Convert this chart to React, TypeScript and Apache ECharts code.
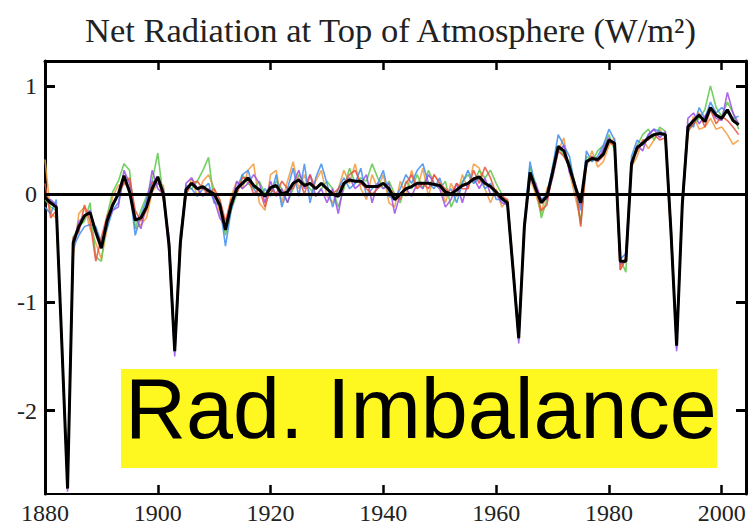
import React, { useEffect, useRef } from "react";
import * as echarts from "echarts";

const titleText = "Net Radiation at Top of Atmosphere (W/m²)";
const boxText = "Rad. Imbalance";
const xTicks = [1880, 1900, 1920, 1940, 1960, 1980, 2000];
const yTicks = [-2, -1, 0, 1];
const startYear = 1880;

// ensemble mean (black)
const meanLine = [
  -0.03, -0.08, -0.12, -1.40, -2.72, -0.45, -0.30, -0.20, -0.17, -0.35,
  -0.50, -0.25, -0.10, 0.00, 0.17, 0.02, -0.24, -0.22, -0.12, 0.05,
  0.16, 0.00, -0.47, -1.45, -0.45, 0.04, 0.10, 0.05, 0.07, 0.03,
  0.00, -0.10, -0.33, -0.10, 0.05, 0.10, 0.15, 0.08, 0.04, -0.02,
  0.06, 0.08, 0.00, 0.02, 0.10, 0.13, 0.08, 0.10, 0.05, 0.10,
  0.05, 0.00, -0.02, 0.10, 0.13, 0.12, 0.12, 0.07, 0.07, 0.07,
  0.10, 0.05, -0.05, 0.00, 0.05, 0.07, 0.10, 0.10, 0.10, 0.09,
  0.08, 0.02, 0.00, 0.04, 0.08, 0.10, 0.14, 0.16, 0.10, 0.07,
  0.02, -0.04, -0.08, -0.70, -1.33, -0.30, 0.20, 0.05, -0.08, -0.02,
  0.20, 0.44, 0.40, 0.25, 0.07, -0.08, 0.30, 0.33, 0.32, 0.37,
  0.50, 0.47, -0.62, -0.62, 0.28, 0.43, 0.47, 0.52, 0.55, 0.56,
  0.55, -0.35, -1.40, -0.10, 0.62, 0.68, 0.73, 0.67, 0.80, 0.73,
  0.70, 0.78, 0.68, 0.64,
];

const runOrange = [
  0.32, -0.18, -0.22, -1.35, -2.65, -0.58, -0.18, -0.12, -0.32, -0.45,
  -0.60, -0.32, -0.02, 0.08, 0.10, 0.05, -0.32, -0.28, -0.22, 0.02,
  0.10, 0.08, -0.52, -1.40, -0.35, -0.02, 0.15, -0.02, 0.12, 0.18,
  0.05, -0.18, -0.30, -0.02, 0.12, 0.05, 0.22, 0.28, -0.08, -0.15,
  0.18, 0.22, -0.08, 0.12, 0.30, 0.05, 0.18, -0.02, 0.12, 0.22,
  -0.02, -0.08, 0.05, 0.22, 0.10, 0.28, 0.05, -0.05, 0.18, 0.05,
  0.18, -0.08, -0.12, 0.12, -0.02, 0.22, 0.05, 0.24, -0.02, 0.18,
  0.10, -0.08, 0.10, -0.02, 0.18, 0.05, 0.28, 0.24, 0.05, -0.08,
  0.05, -0.12, -0.05, -0.65, -1.28, -0.25, 0.15, 0.00, -0.18, 0.05,
  0.15, 0.40, 0.52, 0.20, -0.02, -0.25, 0.25, 0.40, 0.25, 0.30,
  0.45, 0.52, -0.70, -0.58, 0.25, 0.35, 0.50, 0.42, 0.50, 0.60,
  0.52, -0.42, -1.35, -0.05, 0.55, 0.72, 0.60, 0.62, 0.70, 0.60,
  0.62, 0.55, 0.46, 0.50,
];

const runGreen = [
  -0.05, -0.12, -0.15, -1.42, -2.68, -0.40, -0.30, -0.25, -0.08, -0.58,
  -0.62, -0.20, 0.02, 0.12, 0.28, 0.22, -0.32, -0.15, -0.02, 0.12,
  0.38, -0.05, -0.45, -1.42, -0.50, 0.05, 0.05, 0.12, 0.22, 0.34,
  -0.08, -0.05, -0.38, -0.15, 0.00, 0.18, 0.10, 0.05, 0.12, 0.00,
  0.00, 0.12, 0.05, -0.08, 0.05, 0.18, 0.10, 0.05, -0.02, 0.05,
  0.12, 0.05, -0.12, 0.05, 0.24, 0.10, 0.15, 0.12, 0.28, 0.15,
  0.05, 0.12, 0.00, -0.08, 0.12, 0.05, 0.18, 0.05, 0.22, 0.10,
  0.05, 0.12, -0.12, 0.00, 0.12, 0.18, 0.10, 0.22, 0.15, 0.22,
  0.10, 0.00, -0.12, -0.72, -1.30, -0.35, 0.25, 0.10, -0.22, -0.05,
  0.25, 0.45, 0.35, 0.30, 0.10, -0.28, 0.35, 0.30, 0.40, 0.45,
  0.55, 0.40, -0.60, -0.72, 0.30, 0.45, 0.55, 0.60, 0.50, 0.62,
  0.58, -0.30, -1.38, -0.15, 0.60, 0.65, 0.70, 0.78, 1.00, 0.80,
  0.72, 0.85, 0.75, 0.60,
];

const runBlue = [
  -0.12, -0.18, -0.05, -1.45, -2.70, -0.50, -0.38, -0.30, -0.28, -0.30,
  -0.45, -0.32, -0.15, -0.08, 0.15, 0.05, -0.38, -0.20, -0.05, 0.12,
  0.10, 0.05, -0.50, -1.45, -0.40, 0.08, 0.05, -0.02, 0.05, 0.10,
  -0.08, -0.10, -0.48, -0.15, 0.05, 0.18, 0.22, 0.05, -0.02, 0.05,
  -0.02, 0.18, -0.12, 0.05, 0.24, -0.02, 0.28, -0.08, 0.15, 0.28,
  0.10, -0.12, 0.05, 0.15, 0.05, 0.10, 0.24, -0.02, 0.05, 0.10,
  0.22, -0.02, -0.05, 0.05, 0.18, 0.10, 0.22, 0.28, 0.10, 0.05,
  0.15, -0.02, 0.05, -0.08, 0.10, 0.22, 0.10, 0.15, 0.05, 0.10,
  -0.05, -0.05, -0.10, -0.70, -1.35, -0.25, 0.30, 0.05, -0.05, 0.00,
  0.25, 0.55, 0.45, 0.35, 0.05, -0.15, 0.40, 0.30, 0.35, 0.45,
  0.60, 0.50, -0.60, -0.55, 0.35, 0.50, 0.45, 0.55, 0.60, 0.58,
  0.55, -0.35, -1.42, -0.10, 0.65, 0.62, 0.80, 0.70, 0.85, 0.75,
  0.80, 0.75, 0.70, 0.72,
];

const runPurple = [
  -0.05, -0.05, -0.10, -1.40, -2.75, -0.45, -0.25, -0.20, -0.15, -0.35,
  -0.45, -0.25, -0.15, -0.12, 0.22, 0.10, -0.20, -0.32, -0.10, 0.22,
  0.05, 0.00, -0.55, -1.50, -0.50, 0.10, 0.15, 0.05, -0.02, 0.05,
  -0.05, -0.22, -0.30, -0.10, 0.12, 0.05, 0.10, 0.18, 0.10, -0.08,
  0.12, -0.02, 0.05, -0.08, 0.10, 0.22, 0.05, 0.18, -0.02, 0.05,
  -0.08, 0.05, -0.18, 0.10, 0.15, 0.05, 0.10, 0.18, -0.08, 0.10,
  0.05, 0.10, -0.18, 0.00, 0.05, -0.02, 0.10, 0.05, 0.18, 0.10,
  0.05, -0.12, -0.05, 0.10, -0.08, 0.10, 0.15, 0.05, 0.15, 0.00,
  0.00, -0.08, -0.10, -0.72, -1.38, -0.30, 0.15, 0.10, -0.05, -0.05,
  0.15, 0.40, 0.45, 0.20, 0.10, -0.10, 0.28, 0.35, 0.30, 0.42,
  0.52, 0.45, -0.65, -0.62, 0.25, 0.45, 0.40, 0.55, 0.60, 0.52,
  0.58, -0.38, -1.45, -0.05, 0.70, 0.75, 0.65, 0.72, 0.78, 0.70,
  0.68, 0.94, 0.75, 0.65,
];

const runRed = [
  0.10, -0.22, -0.15, -1.38, -2.70, -0.40, -0.35, -0.10, -0.25, -0.62,
  -0.40, -0.20, -0.10, 0.00, 0.10, 0.15, -0.15, -0.25, -0.15, 0.10,
  0.15, -0.05, -0.40, -1.40, -0.45, 0.00, 0.10, 0.12, 0.05, 0.00,
  0.05, -0.05, -0.25, -0.05, 0.00, 0.15, 0.15, 0.00, 0.05, -0.12,
  0.05, 0.00, 0.12, 0.05, 0.05, 0.15, 0.00, 0.18, 0.05, 0.10,
  0.05, 0.00, 0.05, 0.10, 0.18, 0.22, 0.10, 0.05, 0.00, 0.05,
  0.10, 0.05, 0.00, -0.05, 0.10, 0.18, 0.05, 0.10, 0.05, 0.18,
  0.10, 0.05, 0.00, 0.10, 0.05, 0.05, 0.22, 0.10, 0.25, 0.15,
  0.00, -0.02, -0.05, -0.68, -1.30, -0.30, 0.20, 0.05, -0.15, -0.10,
  0.20, 0.40, 0.35, 0.25, 0.10, -0.30, 0.30, 0.35, 0.30, 0.35,
  0.48, 0.45, -0.70, -0.60, 0.30, 0.40, 0.50, 0.50, 0.55, 0.50,
  0.52, -0.30, -1.38, -0.12, 0.58, 0.65, 0.75, 0.62, 0.78, 0.65,
  0.72, 0.68, 0.62, 0.55,
];

const runs = [
  { name: "run 1", values: runOrange, color: "#f29a3c" },
  { name: "run 2", values: runGreen, color: "#5cc84a" },
  { name: "run 3", values: runBlue, color: "#3f8ef0" },
  { name: "run 4", values: runPurple, color: "#9a4de6" },
  { name: "run 5", values: runRed, color: "#e8503c" },
];

const toPairs = (vals: number[]) => vals.map((v, i) => [startYear + i, v]);

export default function App() {
  const ref = useRef<HTMLDivElement>(null);
  useEffect(() => {
    if (!ref.current) return;
    const chart = echarts.init(ref.current, undefined, { renderer: "svg" });
    const serif = "'Liberation Serif', 'Times New Roman', serif";
    const xMin = 1880;
    const xMax = 2004.3;
    const yMin = -2.77;
    const yMax = 1.23;
    const plain = (v: number) => String(v);
    chart.setOption({
      animation: false,
      backgroundColor: "#ffffff",
      title: {
        text: titleText,
        left: 80,
        top: 7,
        textStyle: { fontFamily: serif, fontSize: 34.5, fontWeight: "normal", color: "#222" },
      },
      grid: { left: 45, right: 5, top: 61, bottom: 30 },
      xAxis: [
        {
          type: "value", min: xMin, max: xMax, position: "bottom",
          axisLine: { show: true, onZero: false, lineStyle: { color: "#000", width: 2 } },
          axisTick: { show: true, inside: true, length: 9, customValues: xTicks, lineStyle: { color: "#000", width: 2.5 } },
          axisLabel: { customValues: xTicks, formatter: plain, fontFamily: serif, fontSize: 24, color: "#222", margin: 7 },
          splitLine: { show: false },
        },
        {
          type: "value", min: xMin, max: xMax, position: "top",
          axisLine: { show: true, onZero: false, lineStyle: { color: "#000", width: 3 } },
          axisTick: { show: true, inside: true, length: 9, customValues: xTicks, lineStyle: { color: "#000", width: 2.5 } },
          axisLabel: { show: false },
          splitLine: { show: false },
        },
      ],
      yAxis: [
        {
          type: "value", min: yMin, max: yMax, position: "left",
          axisLine: { show: true, onZero: false, lineStyle: { color: "#000", width: 3 } },
          axisTick: { show: true, inside: true, length: 10, customValues: yTicks, lineStyle: { color: "#000", width: 3 } },
          axisLabel: { customValues: yTicks, formatter: plain, fontFamily: serif, fontSize: 24, color: "#222", margin: 8 },
          splitLine: { show: false },
        },
        {
          type: "value", min: yMin, max: yMax, position: "right",
          axisLine: { show: true, onZero: false, lineStyle: { color: "#000", width: 3 } },
          axisTick: { show: true, inside: true, length: 10, customValues: yTicks, lineStyle: { color: "#000", width: 3 } },
          axisLabel: { show: false },
          splitLine: { show: false },
        },
      ],
      series: [
        ...runs.map((r) => ({
          name: r.name,
          type: "line",
          xAxisIndex: 0,
          yAxisIndex: 0,
          data: toPairs(r.values),
          symbol: "none",
          lineStyle: { color: r.color, width: 1.6, opacity: 0.85 },
          z: 2,
          silent: true,
        })),
        {
          name: "mean",
          type: "line",
          xAxisIndex: 0,
          yAxisIndex: 0,
          data: toPairs(meanLine),
          symbol: "none",
          lineStyle: { color: "#000", width: 3 },
          z: 4,
          silent: true,
          markLine: {
            silent: true,
            symbol: ["none", "none"],
            label: { show: false },
            lineStyle: { color: "#000", width: 3, type: "solid" },
            data: [{ yAxis: 0 }],
          },
        },
      ],
      graphic: [
        {
          type: "rect",
          shape: { x: 121, y: 369, width: 596, height: 99 },
          style: { fill: "#fff820" },
          z: 100,
        },
        {
          type: "text",
          x: 125,
          y: 451,
          style: {
            text: boxText,
            fontFamily: "'Liberation Sans', Arial, sans-serif",
            fontSize: 84.5,
            fill: "#000",
            textVerticalAlign: "bottom",
          },
          z: 101,
        },
      ],
    });
    return () => chart.dispose();
  }, []);
  return (
    <div
      ref={ref}
      style={{ position: "fixed", left: 0, top: 0, width: 751, height: 525, background: "#fff" }}
    />
  );
}
